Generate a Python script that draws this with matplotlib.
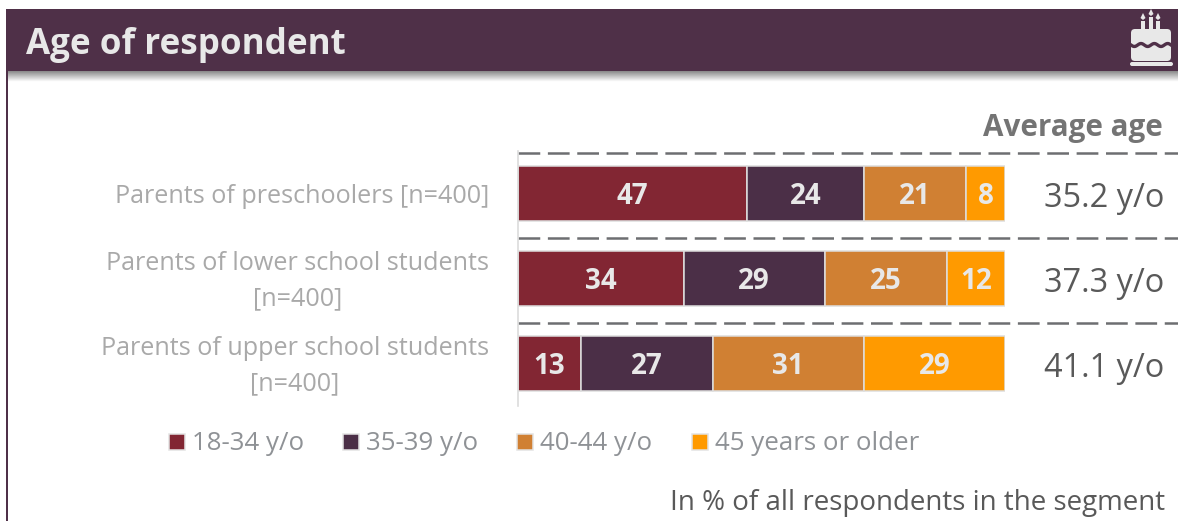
import numpy as np
import matplotlib
matplotlib.use('Agg')
import matplotlib.pyplot as plt
from matplotlib.patches import Rectangle, FancyBboxPatch, Polygon
from matplotlib.transforms import ScaledTranslation

plt.rcParams['font.family'] = ['Open Sans', 'DejaVu Sans']

title = "Age of respondent"
segments = ["Parents of preschoolers [n=400]",
            "Parents of lower school students\n[n=400]",
            "Parents of upper school students\n[n=400]"]
age_groups = ["18-34 y/o", "35-39 y/o", "40-44 y/o", "45 years or older"]
group_colors = ["#822633", "#4b2f47", "#d08033", "#ff9a00"]
shares = np.array([[47, 24, 21, 8],
                   [34, 29, 25, 12],
                   [13, 27, 31, 29]])
average_age = ["35.2 y/o", "37.3 y/o", "41.1 y/o"]
footnote = "In % of all respondents in the segment"

W, H = 1178, 521
HEADER = "#4f3048"
ICON = "#e8e8e8"

fig = plt.figure(figsize=(W / 100, H / 100), dpi=100, facecolor='white')

# full-figure layer in pixel units for header, separators and legend
bg = fig.add_axes([0, 0, 1, 1], zorder=0)
bg.axis('off')

# soft shadow under the header
shade = np.linspace(0.55, 1, 12).reshape(-1, 1)
bg.imshow(shade, extent=(8, W, 82, 71), cmap='gray', vmin=0, vmax=1,
          aspect='auto', interpolation='bilinear', zorder=1)
bg.set_xlim(0, W)
bg.set_ylim(H, 0)
bg.add_patch(Rectangle((6, 9), W - 6, 62, fc=HEADER, ec='none', zorder=2))
bg.add_patch(Rectangle((6, 71), 2, H - 71, fc=HEADER, ec='none', zorder=2))
bg.text(26, 45, title, color="#e8e8e8", fontsize=25.2, fontweight='bold',
        ha='left', va='center', zorder=3)

# birthday cake icon
bg.add_patch(FancyBboxPatch((1131, 29), 40, 32, boxstyle="round,pad=0,rounding_size=4",
                            fc=ICON, ec='none', zorder=3))
wave_x = np.arange(1131, 1172)
wave_y = 45 + 1.5 * np.sin((wave_x - 1131) / 40 * 3 * 2 * np.pi)
bg.plot(wave_x, wave_y, color=HEADER, lw=2.4, zorder=4)
bg.add_patch(FancyBboxPatch((1130, 62), 43, 4, boxstyle="round,pad=0,rounding_size=2",
                            fc=ICON, ec='none', zorder=3))
for cx, top in [(1143, 21), (1151, 17), (1158, 21)]:
    bg.add_patch(Rectangle((cx - 2, top), 4, 30 - top, fc=ICON, ec='none', zorder=3))
    bg.add_patch(Polygon([(cx, top - 8), (cx + 2.5, top - 3), (cx, top - 1), (cx - 2.5, top - 3)],
                         fc=ICON, ec='none', zorder=3))

# stacked bars
ax = fig.add_axes([518 / W, 1 - 406 / H, 487 / W, 255 / H], zorder=1)
ax.patch.set_alpha(0)
ax.set_xlim(0, 100)
ax.set_ylim(2.5, -0.5)
for s in ['top', 'right', 'bottom']:
    ax.spines[s].set_visible(False)
ax.spines['left'].set_color("#dcdcdc")
ax.spines['left'].set_linewidth(1.2)
ax.set_xticks([])
ax.set_yticks(range(len(segments)))
ax.set_yticklabels(segments, color="#a9a9a9", fontsize=18.1, ha='right', va='center',
                   ma='center', linespacing=1.53)
ax.tick_params(axis='y', length=0, pad=21)
# nudge the row labels down a little
nudge = ScaledTranslation(0, -3 / 100, fig.dpi_scale_trans)
for lbl in ax.get_yticklabels():
    lbl.set_transform(lbl.get_transform() + nudge)

left = np.zeros(len(segments))
for j, color in enumerate(group_colors):
    vals = shares[:, j]
    ax.barh(range(len(segments)), vals, left=left, height=0.65, color=color,
            edgecolor="#dedede", linewidth=1.1)
    for i, v in enumerate(vals):
        ax.text(left[i] + v / 2, i + 0.035, str(v), color="#e8e8e8", fontsize=20,
                fontweight='bold', ha='center', va='center')
    left += vals

# average age column
for i, txt in enumerate(average_age):
    ax.annotate(txt, (100, i), xytext=(159, -5), textcoords='offset pixels', color="#595959",
                fontsize=23.4, ha='right', va='center', annotation_clip=False)
bg.text(1163, 128, "Average age", color="#747474", fontsize=21.3, fontweight='bold',
        ha='right', va='center')

# dashed separators above each row
for y in [153, 238, 323]:
    bg.plot([518, W], [y, y], color="#6d6e71", lw=1.8, dashes=(8.7, 3.05),
            dash_capstyle='butt', zorder=2)

# legend row
for name, color, x in zip(age_groups, group_colors, [169, 343, 517, 692]):
    bg.add_patch(Rectangle((x, 434), 16, 16, fc=color, ec="#e3e3e3", lw=1.1, zorder=2))
    bg.text(x + 23, 444, name, color="#8f9296", fontsize=18.6, ha='left', va='center')

bg.text(1165, 503, footnote, color="#595959", fontsize=20, ha='right', va='center')

fig.savefig("out.png", dpi=100)
